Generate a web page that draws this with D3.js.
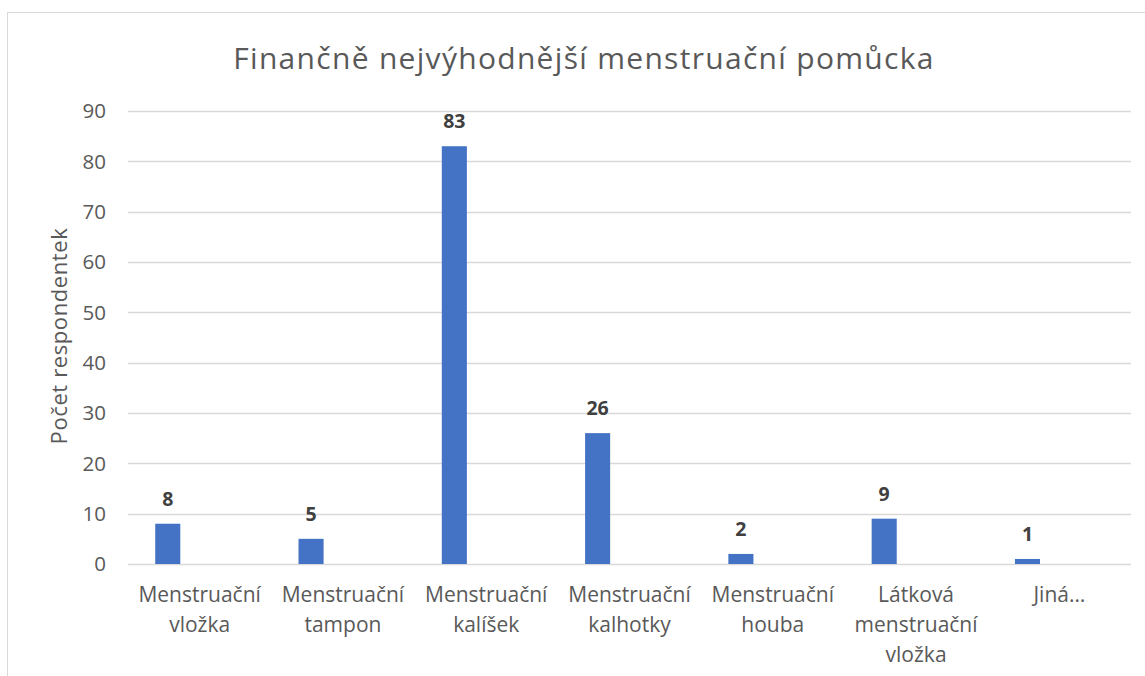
<!DOCTYPE html>
<html lang="cs">
<head>
<meta charset="utf-8">
<title>Finančně nejvýhodnější menstruační pomůcka</title>
<script src="https://cdn.jsdelivr.net/npm/d3@7"></script>
<style>
  body { margin: 0; background: #fff; }
  text { font-family: "Open Sans", Lato, sans-serif; }
</style>
</head>
<body>
<script>
// -- Data -- //
const categories = [
  ["Menstruační", "vložka"],
  ["Menstruační", "tampon"],
  ["Menstruační", "kalíšek"],
  ["Menstruační", "kalhotky"],
  ["Menstruační", "houba"],
  ["Látková", "menstruační", "vložka"],
  ["Jiná…"]
];
const values = [8, 5, 83, 26, 2, 9, 1];
const yTicks = [0, 10, 20, 30, 40, 50, 60, 70, 80, 90];
const titleText = "Finančně nejvýhodnější menstruační pomůcka";
const yLabel = "Počet respondentek";

// -- Setting -- //
const width = 1145, height = 676;
const plot = { left: 128, right: 1131, top: 111, bottom: 564 };

const svg = d3.select("body").append("svg")
  .attr("width", width)
  .attr("height", height);

// chart border
svg.append("rect")
  .attr("x", 7.5).attr("y", 12.5)
  .attr("width", width + 10).attr("height", height + 10)
  .attr("fill", "none")
  .attr("stroke", "#d9d9d9");

const x = d3.scaleBand()
  .domain(d3.range(categories.length))
  .range([plot.left, plot.right])
  .padding(0);

const y = d3.scaleLinear()
  .domain([0, 90])
  .range([plot.bottom, plot.top]);

// gridlines
svg.append("g")
  .selectAll("line")
  .data(yTicks)
  .join("line")
    .attr("x1", plot.left).attr("x2", plot.right)
    .attr("y1", d => Math.round(y(d)) + 0.5)
    .attr("y2", d => Math.round(y(d)) + 0.5)
    .attr("stroke", "#d9d9d9")
    .attr("stroke-width", 1.3);

// y tick labels
svg.append("g")
  .selectAll("text")
  .data(yTicks)
  .join("text")
    .attr("x", 106)
    .attr("y", d => y(d))
    .attr("dy", "0.36em")
    .attr("text-anchor", "end")
    .attr("font-size", 20.5)
    .attr("fill", "#595959")
    .text(d => d);

// bars (left-shifted in each category, like a clustered chart)
const barOffset = x.bandwidth() * 0.19;
const barWidth = x.bandwidth() * 0.175;

svg.append("g")
  .selectAll("rect")
  .data(values)
  .join("rect")
    .attr("x", (d, i) => x(i) + barOffset)
    .attr("y", d => y(d))
    .attr("width", barWidth)
    .attr("height", d => y(0) - y(d))
    .attr("fill", "#4472c4");

// value labels
svg.append("g")
  .selectAll("text")
  .data(values)
  .join("text")
    .attr("x", (d, i) => x(i) + barOffset + barWidth / 2)
    .attr("y", d => y(d) - 18)
    .attr("text-anchor", "middle")
    .attr("font-size", 19.5)
    .attr("font-weight", "bold")
    .attr("fill", "#404040")
    .text(d => d);

// x labels
svg.append("g")
  .selectAll("text")
  .data(categories)
  .join("text")
    .attr("text-anchor", "middle")
    .attr("font-size", 21)
    .attr("fill", "#595959")
    .each(function(lines, i) {
      const t = d3.select(this);
      lines.forEach((line, j) => {
        t.append("tspan")
          .attr("x", x(i) + x.bandwidth() / 2)
          .attr("y", 602 + j * 30)
          .text(line);
      });
    });

// title
svg.append("text")
  .attr("x", 584)
  .attr("y", 69)
  .attr("text-anchor", "middle")
  .attr("font-size", 30)
  .attr("letter-spacing", 1.3)
  .attr("fill", "#595959")
  .text(titleText);

// y axis title
svg.append("text")
  .attr("transform", "translate(67, 336) rotate(-90)")
  .attr("text-anchor", "middle")
  .attr("font-size", 22)
  .attr("letter-spacing", 0.6)
  .attr("fill", "#595959")
  .text(yLabel);
</script>
</body>
</html>
